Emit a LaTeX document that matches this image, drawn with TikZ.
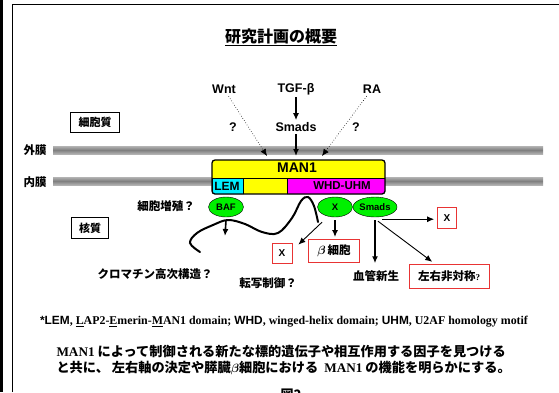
\documentclass[tikz,border=0pt]{standalone}
\usepackage{fontspec}
\usepackage{bm}
\setmainfont{Liberation Serif}
\setsansfont{Liberation Sans}
\newfontfamily\jpfont{Noto Sans CJK JP}
\usetikzlibrary{arrows.meta,shapes.geometric}

\definecolor{boxred}{RGB}{232,52,52}
\definecolor{manyellow}{RGB}{255,255,0}
\definecolor{lemcyan}{RGB}{0,238,255}
\definecolor{whdmagenta}{RGB}{255,0,255}
\definecolor{factorgreen}{RGB}{0,240,0}

\tikzset{
  sflbl/.style={font=\sffamily\bfseries\fontsize{12.5}{14}\selectfont,inner sep=1pt},
  jplbl/.style={font=\jpfont\bfseries\fontsize{11.5}{13}\selectfont,inner sep=1pt},
  regionbox/.style={draw,line width=0.8pt,font=\jpfont\bfseries\fontsize{11}{13}\selectfont,
    minimum height=20pt,inner sep=2pt},
  redbox/.style={draw=boxred,line width=0.8pt,inner sep=2pt,
    font=\jpfont\bfseries\fontsize{11.5}{13}\selectfont},
  factor/.style={ellipse,draw,fill=factorgreen,minimum width=35pt,minimum height=20pt,inner sep=0pt,
    font=\sffamily\bfseries\fontsize{9.5}{11}\selectfont},
  sig/.style={-{Latex[length=7pt,width=6pt]},line width=0.9pt},
  thicksig/.style={sig,line width=1.6pt},
  dotsig/.style={dotted,-{Latex[length=7pt,width=6pt]},line width=0.6pt},
}

\begin{document}
\begin{tikzpicture}[x=1pt,y=-1pt]

  \useasboundingbox (0,0) rectangle (559,392);
  \fill (0,0) rectangle (3,392);
  \draw[line width=1pt] (12,392) -- (12,4) -- (559,4);

  \node[font=\jpfont\bfseries\fontsize{16}{18}\selectfont] (title) at (281,37) {\underline{研究計画の概要}};

  % membranes
  \shade[top color=black!30,bottom color=black!30,middle color=black!50] (53,146) rectangle (543,154);
  \shade[top color=black!30,bottom color=black!30,middle color=black!50] (53,177) rectangle (543,185);
  \node[jplbl] (outer) at (35,150) {外膜};
  \node[jplbl] (inner) at (35,182) {内膜};

  \node[regionbox,minimum width=49pt] (cyto) at (95,122) {細胞質};
  \node[regionbox,minimum width=37pt,minimum height=21pt] (nucleo) at (90,228) {核質};

  % signals
  \node[sflbl] (wnt) at (224,89) {Wnt};
  \node[sflbl] (tgf) at (296,89) {TGF-β};
  \node[sflbl] (ra) at (372,89) {RA};
  \node[sflbl] (smads) at (296,127) {Smads};
  \node[sflbl] (q1) at (233,127) {?};
  \node[sflbl] (q2) at (356,127) {?};

  % MAN1
  \begin{scope}
  \clip[rounded corners=3pt] (212,160) rectangle (385,194);
  \fill[manyellow] (212,160) rectangle (385,194);
  \filldraw[fill=lemcyan] (212,178) rectangle (243,194);
  \filldraw[fill=whdmagenta] (287,178) rectangle (385,194);
  \draw (212,178) -- (385,178);
  \end{scope}
  \draw[line width=1.3pt,rounded corners=3pt] (212,160) rectangle (385,194);
  \node[font=\sffamily\bfseries\fontsize{14}{16}\selectfont] (man1) at (297,168) {MAN1};
  \node[font=\sffamily\bfseries\fontsize{11.5}{13}\selectfont] (whd) at (342,186) {WHD-UHM};
  \node[font=\sffamily\bfseries\fontsize{12}{13}\selectfont] (lem) at (227,186) {LEM};

  \coordinate (wntend) at (267,156);
  \coordinate (tgfend) at (296,156);
  \coordinate (raend) at (322,156);
  \draw[dotsig,shorten <=2pt] (wnt) -- (wntend);
  \draw[dotsig,shorten <=2pt] (ra) -- (raend);
  \draw[thicksig,shorten <=1pt,shorten >=1pt] (tgf) -- (smads);
  \draw[thicksig,shorten <=1pt] (smads) -- (tgfend);

  % chromatin
  \draw[line width=2pt,line cap=round] plot[smooth,tension=0.6] coordinates
    {(200,252) (190,243) (197,233) (213,225) (228,220) (245,224) (262,232)
     (278,233) (292,218) (301,201) (308,197) (314,206) (318,222)};

  % nuclear factors
  \node[factor] (baf) at (226,207) {BAF};
  \node[factor] (xf) at (335,207) {X};
  \node[factor,minimum width=36pt] (smf) at (375,207) {Smads};
  \node[jplbl] (prolif) at (166,206) {細胞増殖？};

  \node[jplbl] (chromo) at (155,274) {クロマチン高次構造？};
  \node[jplbl] (transc) at (268,283) {転写制御？};
  \node[jplbl] (angio) at (376,276) {血管新生};

  \node[redbox,minimum width=20pt,minimum height=20pt,font=\sffamily\bfseries\fontsize{10}{12}\selectfont] (xbox) at (282,253) {X};
  \node[redbox,minimum width=51pt,minimum height=23pt] (beta) at (334,251) {$\bm\beta$\,細胞};
  \node[redbox,minimum width=19pt,minimum height=21pt,font=\sffamily\bfseries\fontsize{10}{12}\selectfont] (xboxr) at (447,218) {X};
  \node[redbox,minimum width=80pt,minimum height=24pt] (asym) at (449,276) {左右非対称{\rmfamily\bfseries\fontsize{9}{10}\selectfont ?}};

  \coordinate (bafend) at (225,236);
  \draw[thicksig] ([yshift=-3pt]baf.south) -- (bafend);
  \draw[thicksig,shorten <=3pt,shorten >=2pt] (xf.south) -- (xf.south |- beta.north);
  \draw[sig] ([xshift=-13pt,yshift=-5pt]xf.south) -- ([xshift=6pt,yshift=-2pt]xbox.north east);
  \draw[thicksig,shorten <=3pt,shorten >=6pt] (smf.south) -- (smf.south |- angio.north);
  \draw[sig] ([xshift=7pt,yshift=-2pt]smf.south) coordinate (smh) -- ([xshift=-3pt]smh -| xboxr.west);
  \draw[sig,shorten >=3pt] ([xshift=3pt,yshift=-4pt]smf.south) -- ([xshift=26pt]asym.north west);

  % notes
  \node[font=\rmfamily\bfseries\fontsize{11.9}{14}\selectfont] (note) at (284,322)
    {{\sffamily *LEM}, \underline{L}AP2-\underline{E}merin-\underline{M}AN1 domain; {\sffamily WHD}, winged-helix domain; {\sffamily UHM}, U2AF homology motif};
  \node[anchor=west,align=left,font=\jpfont\bfseries\fontsize{13.2}{16}\selectfont] (summary) at (53,360)
    {{\rmfamily\bfseries MAN1} によって制御される新たな標的遺伝子や相互作用する因子を見つける\\
     と共に、 左右軸の決定や膵臓$\bm\beta$細胞における\ \ {\rmfamily\bfseries MAN1} の機能を明らかにする。};
  \node[font=\jpfont\bfseries\fontsize{13}{15}\selectfont] (fig) at (291,395) {図2};

\end{tikzpicture}
\end{document}
